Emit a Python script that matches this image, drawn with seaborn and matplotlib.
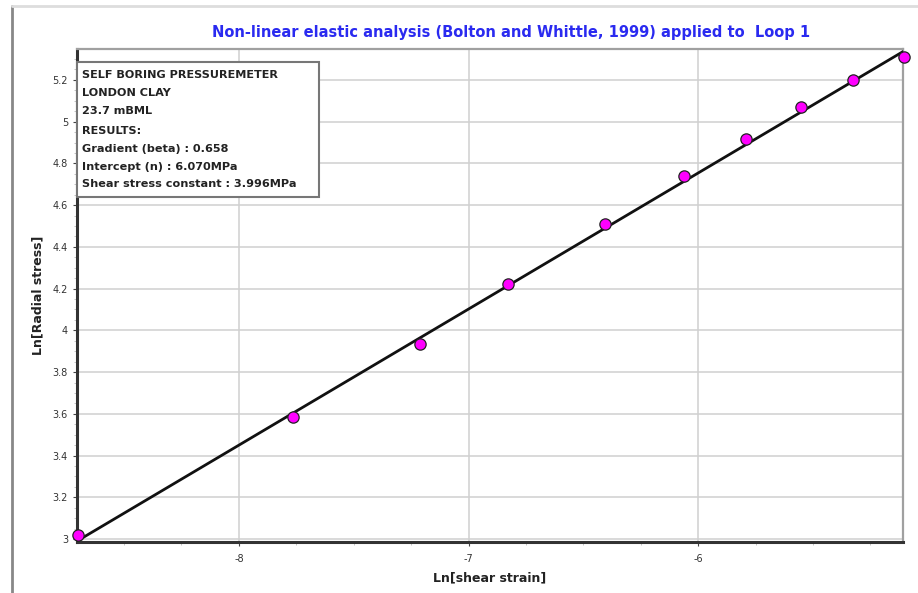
import numpy as np
import pandas as pd
import matplotlib
matplotlib.use("Agg")
import matplotlib.pyplot as plt
from matplotlib.ticker import MultipleLocator
from matplotlib.lines import Line2D
from matplotlib.patches import Rectangle
import seaborn as sns

# ---- data ----
ln_shear_strain = [-8.70, -7.765, -7.213, -6.826, -6.404, -6.06, -5.79, -5.552, -5.326, -5.103]
ln_radial_stress = [3.02, 3.586, 3.933, 4.224, 4.51, 4.738, 4.919, 5.071, 5.20, 5.31]
fit_gradient = 0.652
fit_intercept = 8.666
x_ticks = [-8, -7, -6]
y_ticks = [3, 3.2, 3.4, 3.6, 3.8, 4, 4.2, 4.4, 4.6, 4.8, 5, 5.2]
y_tick_labels = ["3", "3.2", "3.4", "3.6", "3.8", "4", "4.2", "4.4", "4.6", "4.8", "5", "5.2"]
title = "Non-linear elastic analysis (Bolton and Whittle, 1999) applied to  Loop 1"
info_lines = ["SELF BORING PRESSUREMETER", "LONDON CLAY", "23.7 mBML",
              "RESULTS:", "Gradient (beta) : 0.658", "Intercept (n) : 6.070MPa",
              "Shear stress constant : 3.996MPa"]

sns.set_theme(style="white")
plt.rcParams['font.family'] = ['DejaVu Sans']

W, H = 918, 593
fig = plt.figure(figsize=(W / 100, H / 100), dpi=100)
ax = fig.add_axes([77 / W, 1 - 542 / H, (903 - 77) / W, (542 - 49) / H])

xlim = (-8.705, -5.108)
ylim = (2.986, 5.348)

df = pd.DataFrame({"x": ln_shear_strain, "y": ln_radial_stress})
fit_x = np.array(xlim)
fit_df = pd.DataFrame({"x": fit_x, "y": fit_intercept + fit_gradient * fit_x})

sns.lineplot(data=fit_df, x="x", y="y", ax=ax, color="#111111", linewidth=2.0, zorder=3)
sns.scatterplot(data=df, x="x", y="y", ax=ax, color="#ff00ff", edgecolor="#222222",
                linewidth=0.9, s=66, zorder=5, clip_on=False)

ax.set_xlim(*xlim)
ax.set_ylim(*ylim)
ax.set_xticks(x_ticks)
ax.set_xticklabels([str(t) for t in x_ticks])
ax.set_yticks(y_ticks)
ax.set_yticklabels(y_tick_labels)
ax.xaxis.set_minor_locator(MultipleLocator(0.25))
ax.yaxis.set_minor_locator(MultipleLocator(0.05))
ax.grid(True, which="major", color="#d0d0d0", linewidth=1.1)
ax.tick_params(axis="both", which="major", labelsize=7, colors="#444444", length=3,
               width=0.8, direction="out", left=True, bottom=True, labelcolor="#333333")
ax.tick_params(axis="both", which="minor", length=2, width=0.6, colors="#bbbbbb",
               left=True, bottom=True)
ax.tick_params(axis="x", pad=6)

for side in ["left", "bottom"]:
    ax.spines[side].set_color("#333333")
    ax.spines[side].set_linewidth(2.2)
for side in ["top", "right"]:
    ax.spines[side].set_color("#a0a0a0")
    ax.spines[side].set_linewidth(1.6)

ax.set_xlabel("Ln[shear strain]", fontsize=9, fontweight="bold", color="#222222", labelpad=5)
ax.set_ylabel("Ln[Radial stress]", fontsize=9, fontweight="bold", color="#222222", labelpad=6)

fig.text(511 / W, 1 - 32 / H, title, color="#2a2af0", fontsize=10.5, fontweight="bold",
         ha="center", va="center")

# info box
bx0, by0, bx1, by1 = 77, 62, 319, 197
fig.patches.append(Rectangle((bx0 / W, 1 - by1 / H), (bx1 - bx0) / W, (by1 - by0) / H,
                             transform=fig.transFigure, facecolor="white",
                             edgecolor="#777777", linewidth=1.5, zorder=10))
line_y = [75, 93, 111, 131, 149, 167, 184]
for ly, txt in zip(line_y, info_lines):
    fig.text(82 / W, 1 - ly / H, txt, fontsize=8.1, fontweight="bold", color="#222222",
             ha="left", va="center", zorder=11)

# outer frame lines (screenshot border)
fig.add_artist(Line2D([12 / W, 12 / W], [0, 1 - 6 / H], transform=fig.transFigure,
                      color="#888888", linewidth=2))
fig.add_artist(Line2D([12 / W, 1], [1 - 6 / H, 1 - 6 / H], transform=fig.transFigure,
                      color="#dddddd", linewidth=2))

fig.savefig("out.png", dpi=100, facecolor="white")
